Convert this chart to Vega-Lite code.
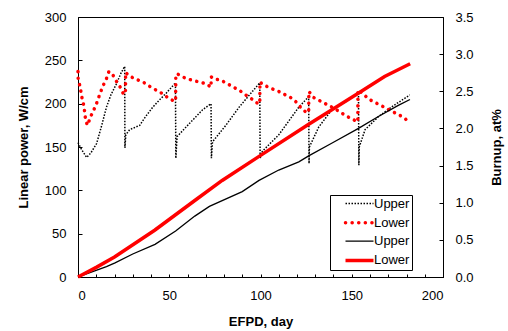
{
  "$schema": "https://vega.github.io/schema/vega-lite/v6.json",
  "width": 365,
  "height": 260,
  "autosize": {"type": "none"},
  "padding": {"left": 78, "top": 17, "right": 65, "bottom": 54},
  "config": {
    "font": "Liberation Sans",
    "view": {"stroke": "black", "strokeWidth": 1},
    "axis": {
      "grid": false,
      "domainColor": "black",
      "tickColor": "black",
      "labelColor": "black",
      "titleColor": "black",
      "labelFontSize": 13,
      "titleFontSize": 13,
      "titleFontWeight": "bold",
      "labelFont": "Liberation Sans",
      "titleFont": "Liberation Sans"
    }
  },
  "encoding": {
    "x": {
      "field": "d",
      "type": "quantitative",
      "scale": {"domain": [0, 200], "nice": false},
      "axis": {
        "title": "EFPD, day",
        "values": [0,10,20,30,40,50,60,70,80,90,100,110,120,130,140,150,160,170,180,190,200],
        "labelExpr": "datum.value % 50 === 0 ? datum.label : ''",
        "tickSize": -3,
        "labelPadding": 15,
        "titlePadding": 13
      }
    },
    "color": {
      "field": "s",
      "type": "nominal",
      "scale": {
        "domain": ["Upper power", "Lower power", "Upper burnup", "Lower burnup"],
        "range": ["black", "#ff0000", "black", "#ff0000"]
      },
      "legend": {
        "orient": "none",
        "legendX": 252,
        "legendY": 178,
        "title": null,
        "symbolType": "stroke",
        "symbolSize": 784,
        "symbolOffset": 21,
        "strokeColor": "black",
        "padding": 2,
        "labelFontSize": 13,
        "labelColor": "black",
        "labelOffset": 8,
        "rowPadding": 4.3,
        "labelExpr": "split(datum.label, ' ')[0]",
        "encode": {
          "legend": {
            "update": {"width": {"value": 97}}
          },
          "symbols": {
            "update": {
              "strokeDash": {"signal": "datum.value === 'Upper power' ? [1.5, 1.5] : datum.value === 'Lower power' ? [0.1, 6.5] : [1, 0]"},
              "strokeWidth": {"signal": "datum.value === 'Upper power' ? 1.5 : datum.value === 'Lower power' ? 3.5 : datum.value === 'Upper burnup' ? 1.3 : 3.5"},
              "strokeCap": {"signal": "datum.value === 'Lower power' ? 'round' : 'butt'"}
            }
          }
        }
      }
    },
    "order": {"value": null}
  },
  "layer": [
    {
      "encoding": {
        "y": {
          "field": "v",
          "type": "quantitative",
          "scale": {"domain": [0, 300], "nice": false},
          "axis": {
            "title": "Linear power, W/cm",
            "values": [0, 50, 100, 150, 200, 250, 300],
            "tickSize": -4,
            "labelPadding": 16,
            "titlePadding": 14
          }
        }
      },
      "layer": [
        {
          "data": {"values": [
            {"s":"Upper power","d":0,"v":155},{"s":"Upper power","d":2,"v":147},{"s":"Upper power","d":4.7,"v":138},{"s":"Upper power","d":7,"v":143},{"s":"Upper power","d":10.2,"v":154},{"s":"Upper power","d":13,"v":175},{"s":"Upper power","d":15.6,"v":196},{"s":"Upper power","d":18,"v":210},{"s":"Upper power","d":21.1,"v":223},{"s":"Upper power","d":23.5,"v":235},{"s":"Upper power","d":25.6,"v":243},{"s":"Upper power","d":25.7,"v":149},{"s":"Upper power","d":26.2,"v":164},{"s":"Upper power","d":28.3,"v":170},{"s":"Upper power","d":33.8,"v":175},{"s":"Upper power","d":37,"v":185},{"s":"Upper power","d":41,"v":196},{"s":"Upper power","d":44.5,"v":204},{"s":"Upper power","d":48.3,"v":212},{"s":"Upper power","d":53.4,"v":224},
            {"s":"Upper power","d":53.6,"v":137},{"s":"Upper power","d":54.3,"v":162},{"s":"Upper power","d":61,"v":177},{"s":"Upper power","d":68.3,"v":193},{"s":"Upper power","d":72.9,"v":200},{"s":"Upper power","d":73.1,"v":137},{"s":"Upper power","d":73.7,"v":156},{"s":"Upper power","d":81,"v":175},{"s":"Upper power","d":88.3,"v":196},{"s":"Upper power","d":95.5,"v":214},{"s":"Upper power","d":99.6,"v":224},
            {"s":"Upper power","d":99.8,"v":137},{"s":"Upper power","d":101,"v":145},{"s":"Upper power","d":110,"v":164},{"s":"Upper power","d":121,"v":196},{"s":"Upper power","d":126.4,"v":208},{"s":"Upper power","d":126.6,"v":131},{"s":"Upper power","d":126.8,"v":150},{"s":"Upper power","d":131.9,"v":173},{"s":"Upper power","d":139.1,"v":193},{"s":"Upper power","d":146.4,"v":202},{"s":"Upper power","d":153.7,"v":212},
            {"s":"Upper power","d":153.9,"v":129},{"s":"Upper power","d":154.1,"v":150},{"s":"Upper power","d":157.3,"v":170},{"s":"Upper power","d":164.6,"v":185},{"s":"Upper power","d":171.7,"v":196},{"s":"Upper power","d":181.8,"v":210}
          ]},
          "mark": {"type": "line", "strokeDash": [1.5, 1.5], "strokeWidth": 1.5}
        },
        {
          "data": {"values": [
            {"s":"Lower power","d":0,"v":237},{"s":"Lower power","d":0.1,"v":228},{"s":"Lower power","d":1.1,"v":220},{"s":"Lower power","d":2.4,"v":204},{"s":"Lower power","d":3.3,"v":197},{"s":"Lower power","d":3.8,"v":187},{"s":"Lower power","d":4.4,"v":179},{"s":"Lower power","d":5.3,"v":175},{"s":"Lower power","d":6.5,"v":183},{"s":"Lower power","d":8,"v":190},{"s":"Lower power","d":9.8,"v":198},{"s":"Lower power","d":11.1,"v":206},{"s":"Lower power","d":12.5,"v":214},{"s":"Lower power","d":13.8,"v":221},{"s":"Lower power","d":15.6,"v":229},{"s":"Lower power","d":16.9,"v":237},{"s":"Lower power","d":18.9,"v":234},{"s":"Lower power","d":20.7,"v":227},{"s":"Lower power","d":22.9,"v":220},{"s":"Lower power","d":24.7,"v":212},{"s":"Lower power","d":26,"v":211},
            {"s":"Lower power","d":26.1,"v":236},{"s":"Lower power","d":28,"v":232},{"s":"Lower power","d":32,"v":228},{"s":"Lower power","d":35.6,"v":225},{"s":"Lower power","d":39.2,"v":220},{"s":"Lower power","d":42.5,"v":216},{"s":"Lower power","d":45.9,"v":212},{"s":"Lower power","d":49.2,"v":207},{"s":"Lower power","d":52.5,"v":203},{"s":"Lower power","d":53.5,"v":203},
            {"s":"Lower power","d":53.6,"v":234},{"s":"Lower power","d":54.7,"v":234},{"s":"Lower power","d":58.3,"v":230},{"s":"Lower power","d":62.5,"v":227},{"s":"Lower power","d":66.5,"v":225},{"s":"Lower power","d":70.1,"v":223},{"s":"Lower power","d":72.9,"v":219},
            {"s":"Lower power","d":73,"v":231},{"s":"Lower power","d":74.1,"v":229},{"s":"Lower power","d":78.3,"v":227},{"s":"Lower power","d":81.9,"v":223},{"s":"Lower power","d":85.2,"v":219},{"s":"Lower power","d":88.7,"v":215},{"s":"Lower power","d":91.9,"v":210},{"s":"Lower power","d":95.5,"v":205},{"s":"Lower power","d":98.6,"v":200},{"s":"Lower power","d":99.6,"v":200},
            {"s":"Lower power","d":99.7,"v":225},{"s":"Lower power","d":101.5,"v":222},{"s":"Lower power","d":105.2,"v":218},{"s":"Lower power","d":109.2,"v":215},{"s":"Lower power","d":112.8,"v":211},{"s":"Lower power","d":116.5,"v":207},{"s":"Lower power","d":119.5,"v":202},{"s":"Lower power","d":121.9,"v":196},{"s":"Lower power","d":125,"v":190},{"s":"Lower power","d":126.4,"v":190},
            {"s":"Lower power","d":126.5,"v":214},{"s":"Lower power","d":129.2,"v":207},{"s":"Lower power","d":132.8,"v":203},{"s":"Lower power","d":136.4,"v":199},{"s":"Lower power","d":140,"v":195},{"s":"Lower power","d":143.1,"v":191},{"s":"Lower power","d":146.8,"v":186},{"s":"Lower power","d":150.4,"v":182},{"s":"Lower power","d":153.3,"v":179},
            {"s":"Lower power","d":153.4,"v":216},{"s":"Lower power","d":156.4,"v":211},{"s":"Lower power","d":159.5,"v":205},{"s":"Lower power","d":163.1,"v":201},{"s":"Lower power","d":166.8,"v":197},{"s":"Lower power","d":170.4,"v":193},{"s":"Lower power","d":174,"v":189},{"s":"Lower power","d":177.7,"v":185},{"s":"Lower power","d":180.9,"v":180}
          ]},
          "mark": {"type": "line", "strokeDash": [0.1, 6.5], "strokeWidth": 3.5, "strokeCap": "round"}
        }
      ]
    },
    {
      "encoding": {
        "y": {
          "field": "v",
          "type": "quantitative",
          "scale": {"domain": [0, 3.5], "nice": false},
          "axis": {
            "orient": "right",
            "title": "Burnup, at%",
            "titleAngle": 270,
            "values": [0, 0.5, 1, 1.5, 2, 2.5, 3, 3.5],
            "format": ".1f",
            "tickSize": -4,
            "labelPadding": 16,
            "titlePadding": 30
          }
        }
      },
      "layer": [
        {
          "data": {"values": [
            {"s":"Upper burnup","d":0,"v":0},{"s":"Upper burnup","d":6.5,"v":0.06},{"s":"Upper burnup","d":15.6,"v":0.14},{"s":"Upper burnup","d":20.3,"v":0.19},{"s":"Upper burnup","d":30,"v":0.31},{"s":"Upper burnup","d":42.2,"v":0.44},{"s":"Upper burnup","d":53.5,"v":0.62},{"s":"Upper burnup","d":64,"v":0.82},{"s":"Upper burnup","d":72,"v":0.95},{"s":"Upper burnup","d":90,"v":1.15},{"s":"Upper burnup","d":99.2,"v":1.3},{"s":"Upper burnup","d":110,"v":1.44},{"s":"Upper burnup","d":121,"v":1.55},{"s":"Upper burnup","d":126.4,"v":1.63},{"s":"Upper burnup","d":139,"v":1.8},{"s":"Upper burnup","d":153.7,"v":2.0},{"s":"Upper burnup","d":164.6,"v":2.16},{"s":"Upper burnup","d":175.5,"v":2.31},{"s":"Upper burnup","d":181.9,"v":2.39}
          ]},
          "mark": {"type": "line", "strokeWidth": 1.3}
        },
        {
          "data": {"values": [
            {"s":"Lower burnup","d":0,"v":0},{"s":"Lower burnup","d":10,"v":0.13},{"s":"Lower burnup","d":20,"v":0.27},{"s":"Lower burnup","d":42,"v":0.63},{"s":"Lower burnup","d":64,"v":1.03},{"s":"Lower burnup","d":79,"v":1.3},{"s":"Lower burnup","d":99,"v":1.62},{"s":"Lower burnup","d":126,"v":2.05},{"s":"Lower burnup","d":154,"v":2.48},{"s":"Lower burnup","d":168,"v":2.7},{"s":"Lower burnup","d":182,"v":2.87}
          ]},
          "mark": {"type": "line", "strokeWidth": 3.5}
        }
      ]
    }
  ],
  "resolve": {"scale": {"y": "independent"}}
}
